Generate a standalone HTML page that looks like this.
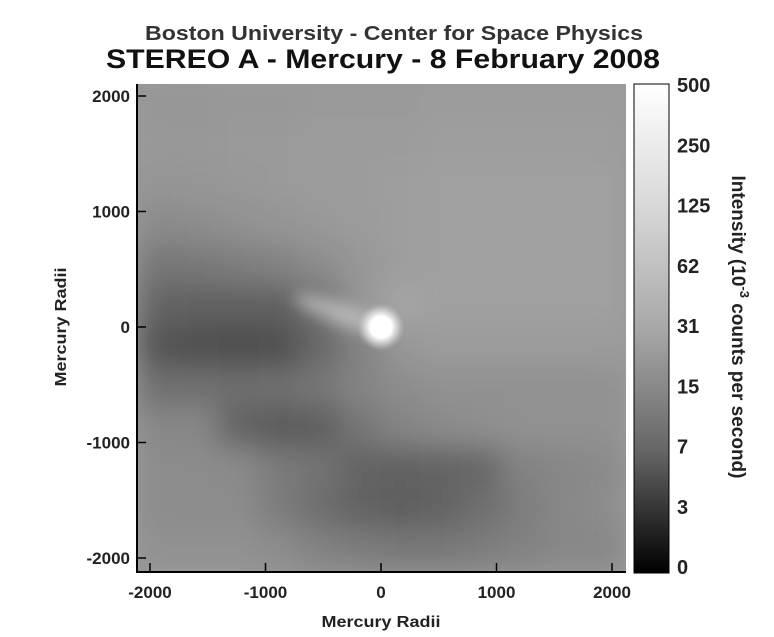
<!DOCTYPE html>
<html><head><meta charset="utf-8">
<style>
body{margin:0;background:#fff;}
svg{display:block;font-family:"Liberation Sans",Arial,sans-serif;font-weight:bold;}
</style></head>
<body>
<svg id="chart" width="774" height="637" viewBox="0 0 774 637" xmlns="http://www.w3.org/2000/svg">
<defs>
<clipPath id="plotclip"><rect x="137" y="84" width="489" height="488"/></clipPath>
<filter id="blur" x="-10%" y="-10%" width="120%" height="120%"><feGaussianBlur stdDeviation="14"/></filter>
<filter id="blur2" x="-50%" y="-100%" width="200%" height="300%"><feGaussianBlur stdDeviation="8"/></filter>
<radialGradient id="spot"><stop offset="0" stop-color="#fff"/><stop offset="0.45" stop-color="#fff"/><stop offset="0.7" stop-color="#ddd" stop-opacity="0.7"/><stop offset="1" stop-color="#bbb" stop-opacity="0"/></radialGradient>
<linearGradient id="cbar" x1="0" y1="0" x2="0" y2="1"><stop offset="0" stop-color="#fff"/><stop offset="0.25" stop-color="#d8d8d8"/><stop offset="0.5" stop-color="#a8a8a8"/><stop offset="0.75" stop-color="#666"/><stop offset="1" stop-color="#000"/></linearGradient>
</defs>
<text x="394" y="40" text-anchor="middle" font-size="20" textLength="498" lengthAdjust="spacingAndGlyphs" fill="#333">Boston University - Center for Space Physics</text>
<text x="383" y="68" text-anchor="middle" font-size="27" textLength="554" lengthAdjust="spacingAndGlyphs" fill="#111">STEREO A - Mercury - 8 February 2008</text>
<g id="plot" clip-path="url(#plotclip)">
<rect x="137" y="84" width="489" height="488" fill="#9a9a9a"/>
<g id="cells" filter="url(#blur)"></g>
<g id="spotg"></g>
</g>
<g id="axes"></g>
<rect x="634" y="84" width="35" height="489" fill="url(#cbar)" stroke="#000" stroke-width="1"/>
<g id="cbticks"></g>
<text transform="translate(732,327) rotate(90)" text-anchor="middle" font-size="19" fill="#222">Intensity (10<tspan dy="-8" font-size="13">-3</tspan><tspan dy="8"> counts per second)</tspan></text>
<text x="381" y="627" text-anchor="middle" font-size="16" textLength="119" lengthAdjust="spacingAndGlyphs" fill="#222">Mercury Radii</text>
<text transform="translate(66,327) rotate(-90)" text-anchor="middle" font-size="16" textLength="119" lengthAdjust="spacingAndGlyphs" fill="#222">Mercury Radii</text>
</svg>
<script>
const NS="http://www.w3.org/2000/svg";
const xTicks=[-2000,-1000,0,1000,2000];
const yTicks=[2000,1000,0,-1000,-2000];
const cbLabels=["500","250","125","62","31","15","7","3","0"];
const gridX0=-2100, gridStep=350;
const grayRows=[
[150,150,152,152,154,154,154,156,156,156,156,156],
[152,152,154,154,156,156,156,158,158,158,158,158],
[148,150,152,154,156,156,158,160,160,160,160,160],
[138,140,145,148,152,155,158,160,160,160,160,160],
[118,120,125,130,140,150,158,160,160,160,160,160],
[100,96,96,96,110,150,165,160,160,160,160,160],
[84,80,78,80,105,130,150,155,155,155,155,155],
[112,112,110,112,118,132,140,145,145,145,145,145],
[135,135,100,92,95,118,132,138,142,145,145,145],
[140,140,138,122,115,100,98,100,104,130,135,138],
[140,140,140,125,110,100,95,100,110,125,135,140],
[145,145,145,140,130,125,120,120,125,130,135,135]];
const spotX=0, spotY=0;
function xs(v){return 381+v*0.1155;}
function ys(v){return 327-v*0.1155;}
function mk(t,a,p){const e=document.createElementNS(NS,t);for(const k in a)e.setAttribute(k,a[k]);(p||document.getElementById('chart')).appendChild(e);return e;}
const cells=document.getElementById('cells');
grayRows.forEach((row,r)=>row.forEach((g,c)=>{
  const x0=xs(gridX0+c*gridStep), x1=xs(gridX0+(c+1)*gridStep);
  const y0=ys(-gridX0-r*gridStep), y1=ys(-gridX0-(r+1)*gridStep);
  const e=mk('rect',{x:x0-1,y:y0-1,width:x1-x0+2,height:y1-y0+2,fill:`rgb(${g},${g},${g})`},cells);
  
  
}));
const sg=document.getElementById('spotg');
const tcx=xs(spotX)-42, tcy=ys(spotY)-14;
const tail=mk('ellipse',{cx:tcx,cy:tcy,rx:48,ry:9,fill:'#cfcfcf',opacity:0.75,transform:`rotate(20 ${tcx} ${tcy})`,filter:'url(#blur2)'},sg);


const sp=mk('circle',{cx:xs(spotX),cy:ys(spotY),r:24,fill:'url(#spot)'},sg);


const ax=document.getElementById('axes');
const l1=mk('line',{x1:137,y1:84,x2:137,y2:573,stroke:'#000','stroke-width':2},ax);

const l2=mk('line',{x1:136,y1:572,x2:626,y2:572,stroke:'#000','stroke-width':2},ax);

xTicks.forEach(v=>{
  const x=xs(v);
  const t=mk('line',{x1:x,y1:572,x2:x,y2:563,stroke:'#000','stroke-width':1.5},ax);
  
  const tx=mk('text',{x:x,y:598,'text-anchor':'middle','font-size':17,fill:'#222'},ax);
  tx.textContent=v;
  
});
yTicks.forEach(v=>{
  const y=ys(v);
  const t=mk('line',{x1:137,y1:y,x2:146,y2:y,stroke:'#000','stroke-width':1.5},ax);
  
  const tx=mk('text',{x:130,y:y+6,'text-anchor':'end','font-size':17,fill:'#222'},ax);
  tx.textContent=v;
  
});
const cb=document.getElementById('cbticks');
cbLabels.forEach((s,i)=>{
  const y=84+i*(482/(cbLabels.length-1));
  const tx=mk('text',{x:677,y:y+8,'font-size':20,fill:'#222'},cb);
  tx.textContent=s;
  
});
</script>
</body></html>
